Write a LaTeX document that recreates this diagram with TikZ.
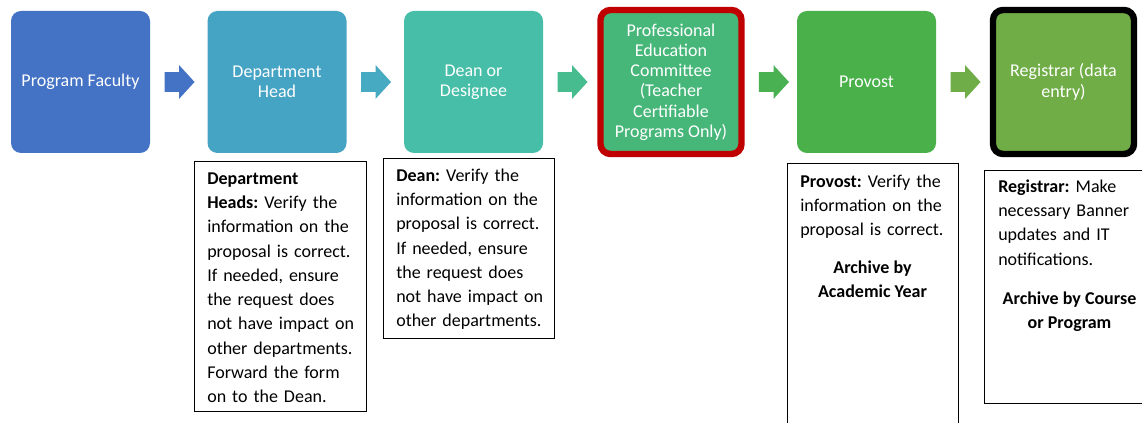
\documentclass[tikz,border=0pt]{standalone}
\usepackage{fontspec}
\setmainfont{Carlito}
\usetikzlibrary{shapes.arrows,calc}

\definecolor{faculty}{HTML}{4472C4}
\definecolor{head}{HTML}{45A3C4}
\definecolor{dean}{HTML}{47BEA7}
\definecolor{committee}{HTML}{46B679}
\definecolor{provost}{HTML}{49B04A}
\definecolor{registrar}{HTML}{70AD47}
\definecolor{ringred}{HTML}{C00000}
\definecolor{arrhead}{HTML}{46AAC3}
\definecolor{arrdean}{HTML}{46BC8F}
\definecolor{arrcomm}{HTML}{4AB153}
\definecolor{arrprov}{HTML}{6EAD47}

\tikzset{
  stage/.style={rectangle, rounded corners=7.5pt, minimum width=104.25pt,
    minimum height=106.5pt, inner sep=2pt, align=center, text=white,
    font=\fontsize{13.5}{15.2}\selectfont},
  ringed/.style={stage, minimum width=105.75pt, minimum height=108pt,
    line width=4.8pt},
  flow/.style={single arrow, draw=none, inner xsep=0pt, inner ysep=7.125pt,
    minimum height=22.5pt, minimum width=24.75pt,
    single arrow head extend=5.25pt, single arrow tip angle=95, anchor=tail},
  note/.style={anchor=north west, inner sep=0pt, align=left, text width=125pt,
    font=\frenchspacing\fontsize{13.5}{18.2}\selectfont},
  archive/.style={anchor=north, inner sep=0pt, align=center,
    font=\bfseries\fontsize{13.5}{18.2}\selectfont},
  frame/.style={draw=black, line width=0.75pt}
}

\begin{document}
\begin{tikzpicture}[x=0.75pt, y=-0.75pt]
  \fill[white, use as bounding box] (0,0) rectangle (1142,423);
  \clip (0,0) rectangle (1142,423);

  % etapes
  \node[stage, fill=faculty] (pf) at (80.5,82) {Program Faculty};
  \node[stage, fill=head] (dh) at (277,82) {Department\\Head};
  \node[stage, fill=dean] (dn) at (473.5,82) {Dean or\\Designee};
  \node[ringed, fill=committee, draw=ringred] (pec) at (671,82)
    {Professional\\Education\\Committee\\(Teacher\\Certifiable\\Programs Only)};
  \node[stage, fill=provost] (pv) at (866.5,82) {Provost};
  \node[ringed, fill=registrar, draw=black] (rg) at (1063.5,82)
    {Registrar (data\\entry)};

  % fleches
  \foreach \a/\c in {pf/faculty, dh/arrhead, dn/arrdean, pec/arrcomm, pv/arrprov} {
    \node[flow, fill=\c] (to-\a) at ($(\a.east)+(14,0)$) {};
  }

  % notes
  \draw[frame] (194,162) rectangle (366,412);
  \node[note] (dhnote) at (207,167) {\strut\textbf{Department}\\\textbf{Heads:} Verify the\\information on the\\proposal is correct.\\If needed, ensure\\the request does\\not have impact on\\other departments.\\Forward the form\\on to the Dean.};

  \draw[frame] (383,159) rectangle (554,339);
  \node[note] (dnnote) at (396,164) {\strut\textbf{Dean:} Verify the\\information on the\\proposal is correct.\\If needed, ensure\\the request does\\not have impact on\\other departments.};

  \draw[frame] (787,164) rectangle (958,440);
  \node[note] (pvnote) at (800,170) {\strut\textbf{Provost:} Verify the\\information on the\\proposal is correct.};
  \node[archive] (pvarch) at (872.5,256) {\strut Archive by\\Academic Year};

  \draw[frame] (984,171) rectangle (1155,404);
  \node[note] (rgnote) at (998,175) {\strut\textbf{Registrar:} Make\\necessary Banner\\updates and IT\\notifications.};
  \node[archive] (rgarch) at (1069.5,287) {\strut Archive by Course\\or Program};
\end{tikzpicture}
\end{document}
